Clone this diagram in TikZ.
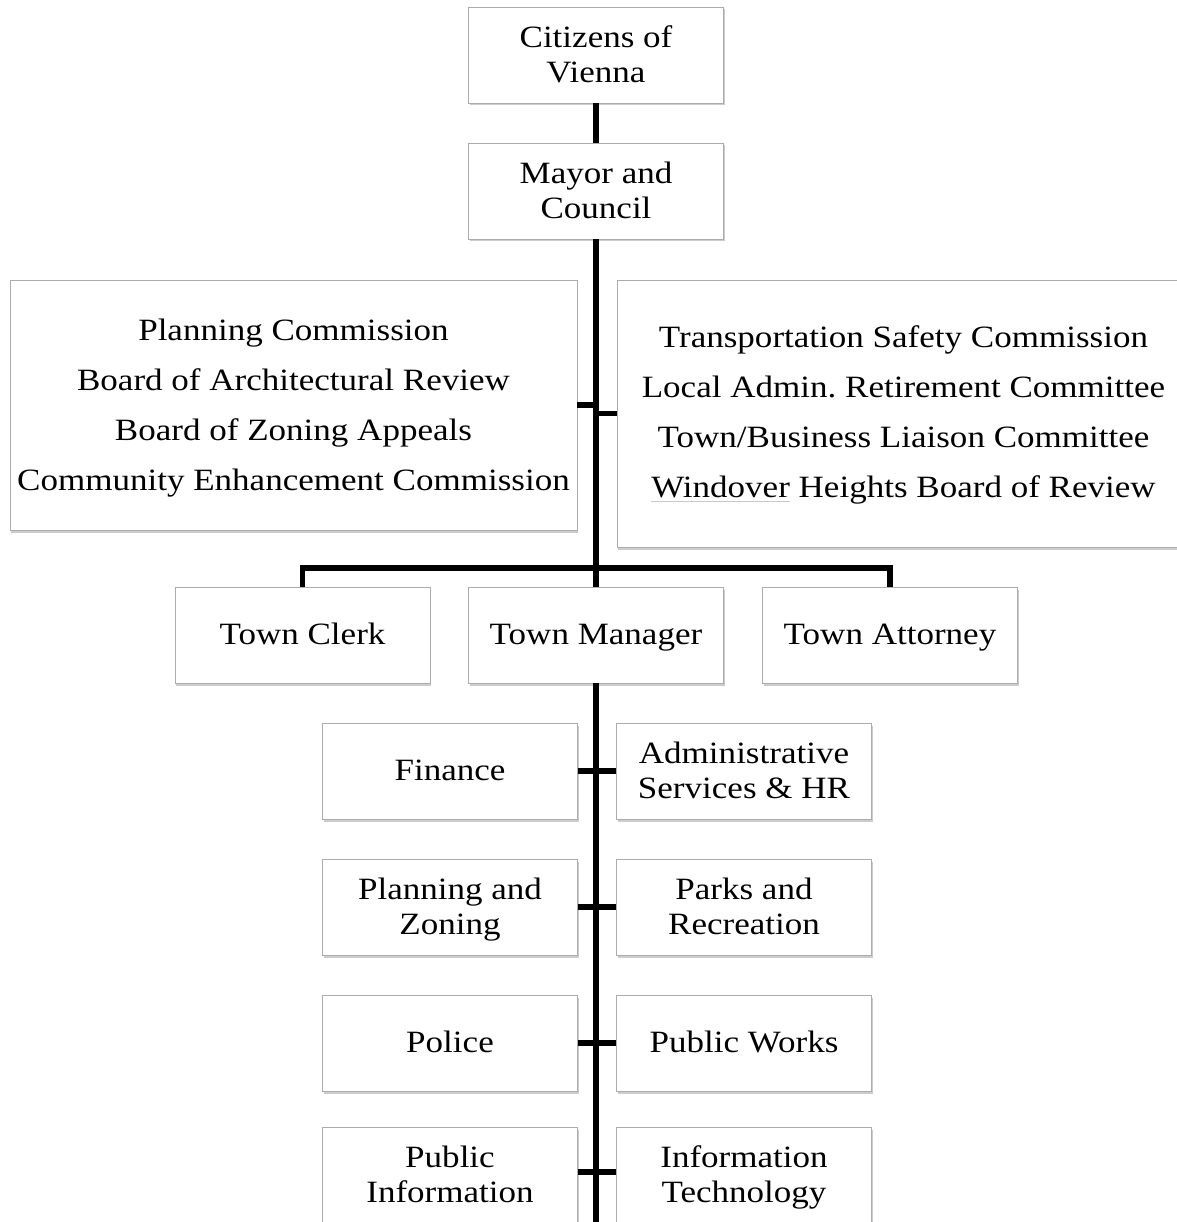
\documentclass[tikz,border=0pt]{standalone}
\usepackage{fontspec}
\setmainfont{Liberation Serif}[FakeStretch=1.13]
\frenchspacing
\usetikzlibrary{shadows}
\newcommand\spellul[1]{\setbox0\hbox{#1}\rlap{\textcolor{red!30}{\rule[-5pt]{\wd0}{0.9pt}}}\box0}
\newcommand\boxstrut{\rule[-10.5pt]{0pt}{40pt}}
\newcommand\tall{\rule{0pt}{31pt}}
\tikzset{
  box/.style={draw=gray!65, line width=0.8pt, fill=white, align=center, inner sep=0pt,
    font=\fontsize{31}{35}\selectfont,
    execute at begin node=\boxstrut, execute at end node=\boxstrut,
    drop shadow={shadow xshift=1.2pt, shadow yshift=-2.5pt, opacity=0.4, fill=gray}},
  sbox/.style={box, minimum width=255pt, minimum height=96pt},
  bigbox/.style={box, font=\fontsize{31}{50}\selectfont},
  conn/.style={line width=5.5pt, black}
}
\begin{document}
\begin{tikzpicture}[x=1pt,y=-1pt]
\useasboundingbox (0,0) rectangle (1176,1222);
% nodes
\node[sbox] (cit) at (596,55) {\tall Citizens of\\Vienna};
\node[sbox] (may) at (596,191) {\tall Mayor and\\Council};
\node[bigbox, minimum width=567pt, minimum height=250pt] (left) at (293.5,405)
  {\tall Planning Commission\\Board of Architectural Review\\Board of Zoning Appeals\\Community Enhancement Commission};
\node[bigbox, minimum width=573pt, minimum height=267pt] (right) at (903.5,413.5)
  {\rule{0pt}{28pt}Transportation Safety Commission\\Local Admin. Retirement Committee\\Town/Business Liaison Committee\\\spellul{Windover}\ Heights Board of Review};
\node[sbox] (clerk) at (302.5,635) {Town Clerk};
\node[sbox] (mgr) at (596,635) {Town Manager};
\node[sbox] (att) at (890,635) {Town Attorney};
\node[sbox] (fin) at (450,771) {Finance};
\node[sbox] (adm) at (744,771) {\tall Administrative\\Services \& HR};
\node[sbox] (plz) at (450,907) {\tall Planning and\\Zoning};
\node[sbox] (parks) at (744,907) {\tall Parks and\\Recreation};
\node[sbox] (pol) at (450,1043) {Police};
\node[sbox] (pw) at (744,1043) {Public Works};
\node[sbox] (pi) at (450,1175) {\tall Public\\Information};
\node[sbox] (it) at (744,1175) {\tall Information\\Technology};
% connectors
\coordinate (bar) at (596,568);
\coordinate (bot) at (596,1230);
\draw[conn] (cit.south) -- (may.north);
\draw[conn] (may.south) -- (bar);
\draw[conn] (left.east) -- (left.east -| bar);
\draw[conn] (right.west) -- (right.west -| bar);
\draw[conn] (clerk.north) |- (bar) -| (att.north);
\draw[conn] (bar) -- (mgr.north);
\draw[conn] (mgr.south) -- (bot);
\draw[conn] (fin.east) -- (adm.west);
\draw[conn] (plz.east) -- (parks.west);
\draw[conn] (pol.east) -- (pw.west);
\draw[conn] ([yshift=3pt]pi.east) -- ([yshift=3pt]it.west);
\end{tikzpicture}
\end{document}
